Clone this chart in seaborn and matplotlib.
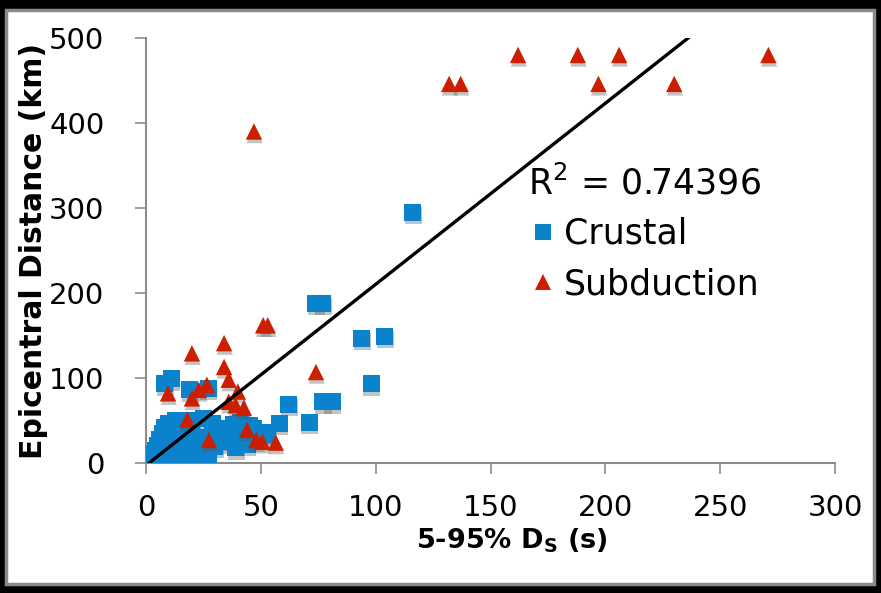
import matplotlib
matplotlib.use("Agg")
import matplotlib.pyplot as plt
import matplotlib.patheffects as pe
from matplotlib.patches import Rectangle
from matplotlib.lines import Line2D
import numpy as np
import pandas as pd
import seaborn as sns

# ---- data ---------------------------------------------------------------
crustal_ds = [116, 74, 77, 94, 104, 98, 77, 81, 62, 58, 71, 8, 11, 19, 27,
              51, 53, 1, 2, 3, 4, 5, 6, 7, 8, 10, 13, 16, 20, 25, 29, 31, 35,
              38, 41, 45, 47, 50, 42, 36, 30, 26, 22, 18, 14, 10, 6, 3, 12,
              16, 20, 24, 9, 14, 19, 33, 27, 22, 15, 44, 39]
crustal_dist = [295, 188, 188, 147, 149, 93, 72, 72, 69, 47, 48, 93, 99, 86, 88,
                36, 33, 2, 5, 10, 15, 20, 28, 35, 42, 47, 50, 45, 50, 52, 46, 40, 37,
                45, 48, 44, 40, 35, 30, 28, 20, 15, 12, 10, 8, 6, 4, 3, 18,
                22, 28, 30, 25, 33, 38, 25, 10, 5, 3, 22, 18]

subduction_ds = [162, 188, 206, 271, 132, 137, 197, 230, 47, 51, 53, 34, 20,
                 74, 34, 36, 26.5, 23, 9.6, 20, 40, 36, 39, 42.6, 18, 44, 27.4,
                 48, 50.6, 56.5]
subduction_dist = [480, 480, 480, 480, 446, 446, 446, 446, 390, 162, 162, 141, 129,
                   107, 113, 98, 92, 86, 82, 76, 84, 72, 68, 65, 51, 39, 27,
                   27, 25, 24]

fit_slope = 2.13
fit_intercept = -2.8
r_squared = 0.74396

x_ticks = [0, 50, 100, 150, 200, 250, 300]
y_ticks = [0, 100, 200, 300, 400, 500]

df = pd.concat([
    pd.DataFrame({"ds": crustal_ds, "dist": crustal_dist, "type": "Crustal"}),
    pd.DataFrame({"ds": subduction_ds, "dist": subduction_dist, "type": "Subduction"}),
], ignore_index=True)

# ---- style --------------------------------------------------------------
sns.set_style("white")
plt.rcParams["font.family"] = ["DejaVu Sans"]
plt.rcParams["text.color"] = "black"
plt.rcParams["axes.labelcolor"] = "black"

blue = "#0A82CC"
red = "#CC1F00"
shadow = [pe.SimplePatchShadow(offset=(0.5, -2.5), shadow_rgbFace="#555555", alpha=0.35),
          pe.Normal()]

fig = plt.figure(figsize=(8.81, 5.93), dpi=100, facecolor="black")
fig.patches.append(Rectangle((6 / 881, 9 / 593), 868 / 881, 574 / 593,
                             transform=fig.transFigure, facecolor="white",
                             edgecolor="#8a8a8a", linewidth=2.5, zorder=-10))

ax = fig.add_axes([146 / 881, 130 / 593, 689 / 881, 425 / 593])
ax.set_facecolor("none")

sns.scatterplot(data=df[df["type"] == "Crustal"], x="ds", y="dist", ax=ax,
                marker="s", s=150, color=blue, edgecolor="none", legend=False,
                zorder=3, path_effects=shadow)
sns.scatterplot(data=df[df["type"] == "Subduction"], x="ds", y="dist", ax=ax,
                marker="^", s=140, color=red, edgecolor="none", legend=False,
                zorder=4, path_effects=shadow)

# linear trendline over the data range
xmax = max(max(crustal_ds), max(subduction_ds))
fx = np.array([1.3, xmax])
ax.plot(fx, fit_slope * fx + fit_intercept, color="black", lw=2.4, zorder=5)

ax.set_xlim(0, 300)
ax.set_ylim(0, 500)
ax.set_xticks(x_ticks)
ax.set_yticks(y_ticks)
ax.tick_params(axis="both", which="major", direction="out", length=8,
               width=1.2, color="#8c8c8c", labelcolor="black", labelsize=21,
               bottom=True, left=True)
ax.tick_params(axis="y", pad=22)
ax.tick_params(axis="x", pad=14)
for side in ("top", "right"):
    ax.spines[side].set_visible(False)
for side in ("left", "bottom"):
    ax.spines[side].set_color("#8c8c8c")
    ax.spines[side].set_linewidth(1.5)

ax.set_xlabel(r"5-95% D$_\mathbf{S}$ (s)", fontsize=19.5, fontweight="bold")
ax.set_ylabel("Epicentral Distance (km)", fontsize=21.5, fontweight="bold")
ax.xaxis.set_label_coords(0.531, -0.15)
ax.yaxis.set_label_coords(-0.142, 0.5)

ax.text(528 / 881, 1 - 183 / 593, f"R$^2$ = {r_squared}", transform=fig.transFigure,
        fontsize=25, va="center", ha="left")

handles = [Line2D([], [], marker="s", ls="none", color=blue, markersize=11, markeredgewidth=0),
           Line2D([], [], marker="^", ls="none", color=red, markersize=12, markeredgewidth=0)]
leg = ax.legend(handles, ["Crustal", "Subduction"], loc="upper left",
                bbox_to_anchor=(533 / 881, 1 - 217 / 593), bbox_transform=fig.transFigure,
                frameon=False, fontsize=25, handlelength=0.6, handletextpad=0.3,
                labelspacing=0.47, borderaxespad=0, borderpad=0)

fig.savefig("out.png", dpi=100, facecolor="black")
